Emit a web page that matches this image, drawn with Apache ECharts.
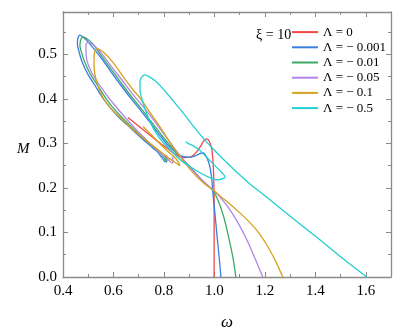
<!DOCTYPE html>
<html>
<head>
<meta charset="utf-8">
<script src="https://cdn.jsdelivr.net/npm/echarts@6/dist/echarts.min.js"></script>
<style>
  html, body { margin: 0; padding: 0; background: #fff; }
  #chart { width: 407px; height: 335px; }
</style>
</head>
<body>
<div id="chart"></div>
<script>
// omega / M along each curve
const wL0 = [0.999, 0.999, 0.999, 0.997, 0.994, 0.990, 0.982, 0.970, 0.958, 0.947, 0.931, 0.911, 0.887, 0.863, 0.836, 0.804, 0.772, 0.733, 0.693, 0.657];
const mL0 = [0, 0.083, 0.173, 0.230, 0.264, 0.286, 0.302, 0.310, 0.306, 0.295, 0.282, 0.271, 0.268, 0.270, 0.279, 0.293, 0.306, 0.324, 0.342, 0.358];

const wL0001 = [1.026, 1.018, 1.010, 1.002, 0.994, 0.990, 0.982, 0.970, 0.954, 0.939, 0.919, 0.895, 0.863, 0.824, 0.784, 0.745, 0.705, 0.669, 0.630, 0.586, 0.547, 0.507, 0.483, 0.467, 0.459, 0.457, 0.463, 0.475, 0.499, 0.527, 0.554, 0.586, 0.626, 0.665, 0.705, 0.745, 0.772, 0.792, 0.804, 0.808, 0.806];
const mL0001 = [0, 0.050, 0.095, 0.144, 0.189, 0.218, 0.248, 0.268, 0.279, 0.276, 0.271, 0.269, 0.273, 0.291, 0.318, 0.347, 0.376, 0.401, 0.430, 0.464, 0.495, 0.523, 0.537, 0.543, 0.536, 0.523, 0.507, 0.484, 0.455, 0.430, 0.405, 0.381, 0.356, 0.336, 0.315, 0.295, 0.282, 0.268, 0.259, 0.266, 0.275];

const wL001 = [1.085, 1.073, 1.057, 1.038, 1.014, 0.994, 0.966, 0.935, 0.903, 0.863, 0.828, 0.792, 0.752, 0.713, 0.677, 0.638, 0.594, 0.554, 0.519, 0.495, 0.479, 0.471, 0.467, 0.473, 0.485, 0.507, 0.535, 0.562, 0.594, 0.634, 0.673, 0.713, 0.752, 0.780, 0.800, 0.810, 0.812, 0.810];
const mL001 = [0, 0.045, 0.088, 0.133, 0.173, 0.194, 0.209, 0.227, 0.248, 0.270, 0.293, 0.318, 0.347, 0.376, 0.401, 0.430, 0.464, 0.495, 0.523, 0.535, 0.539, 0.534, 0.520, 0.505, 0.484, 0.457, 0.432, 0.408, 0.383, 0.358, 0.336, 0.315, 0.295, 0.282, 0.268, 0.258, 0.264, 0.273];

const wL005 = [1.192, 1.160, 1.129, 1.093, 1.053, 1.018, 0.994, 0.958, 0.923, 0.887, 0.851, 0.816, 0.784, 0.752, 0.717, 0.677, 0.638, 0.598, 0.558, 0.527, 0.507, 0.497, 0.491, 0.491, 0.495, 0.511, 0.535, 0.566, 0.606, 0.650, 0.697, 0.745, 0.788, 0.816, 0.832, 0.836, 0.834];
const mL005 = [0, 0.043, 0.083, 0.122, 0.158, 0.182, 0.196, 0.214, 0.234, 0.257, 0.282, 0.309, 0.333, 0.358, 0.383, 0.410, 0.439, 0.468, 0.498, 0.518, 0.526, 0.527, 0.520, 0.507, 0.486, 0.462, 0.439, 0.414, 0.385, 0.356, 0.327, 0.300, 0.277, 0.264, 0.256, 0.261, 0.270];

const wL01 = [1.271, 1.244, 1.212, 1.176, 1.141, 1.101, 1.061, 1.022, 0.994, 0.962, 0.931, 0.899, 0.867, 0.832, 0.796, 0.764, 0.737, 0.709, 0.677, 0.638, 0.598, 0.566, 0.547, 0.535, 0.527, 0.523, 0.523, 0.527, 0.539, 0.558, 0.586, 0.626, 0.673, 0.725, 0.776, 0.816, 0.848, 0.863, 0.859, 0.840, 0.804, 0.764, 0.737, 0.717];
const mL01 = [0, 0.034, 0.068, 0.099, 0.122, 0.144, 0.164, 0.182, 0.196, 0.209, 0.225, 0.245, 0.268, 0.295, 0.327, 0.354, 0.376, 0.399, 0.421, 0.450, 0.482, 0.502, 0.510, 0.512, 0.507, 0.493, 0.475, 0.453, 0.428, 0.403, 0.381, 0.358, 0.333, 0.309, 0.286, 0.268, 0.256, 0.250, 0.257, 0.270, 0.288, 0.311, 0.327, 0.338];

const wL05 = [1.604, 1.537, 1.469, 1.406, 1.339, 1.271, 1.208, 1.141, 1.089, 1.042, 0.994, 0.954, 0.915, 0.875, 0.836, 0.796, 0.764, 0.741, 0.725, 0.713, 0.705, 0.705, 0.713, 0.733, 0.756, 0.784, 0.824, 0.863, 0.903, 0.943, 0.982, 1.014, 1.038, 1.042, 1.030, 1.002, 0.974, 0.943, 0.915, 0.895, 0.887];
const mL05 = [0, 0.029, 0.060, 0.089, 0.119, 0.150, 0.179, 0.209, 0.235, 0.261, 0.288, 0.313, 0.340, 0.369, 0.396, 0.423, 0.441, 0.450, 0.454, 0.450, 0.439, 0.421, 0.399, 0.365, 0.336, 0.311, 0.286, 0.264, 0.248, 0.234, 0.223, 0.218, 0.222, 0.225, 0.234, 0.250, 0.266, 0.284, 0.295, 0.300, 0.304];

const names = ['\u039b = 0', '\u039b = \u2212 0.001', '\u039b = \u2212 0.01', '\u039b = \u2212 0.05', '\u039b = \u2212 0.1', '\u039b = \u2212 0.5'];
const colors = ['#f04848', '#3a7ee0', '#3aaa66', '#b384e8', '#d6a11c', '#22cfd2'];
const omegas = [wL0, wL0001, wL001, wL005, wL01, wL05];
const masses = [mL0, mL0001, mL001, mL005, mL01, mL05];

const xTicks = { min: 0.4, max: 1.7, interval: 0.2 };
const yTicks = { min: 0, max: 0.595, interval: 0.1 };

const font = 'Liberation Serif';
const axisGray = '#8a8a8a';

function zip(w, m) {
  return w.map((v, i) => [v, m[i]]);
}

let chart = echarts.init(document.getElementById('chart'));

let series = names.map((name, i) => ({
  name: name,
  type: 'line',
  data: zip(omegas[i], masses[i]),
  smooth: 0.3,
  symbol: 'none',
  lineStyle: { color: colors[i], width: 1.3 },
  itemStyle: { color: colors[i] },
  xAxisIndex: 0,
  yAxisIndex: 0
}));

const baseX = {
  type: 'value',
  min: xTicks.min,
  max: xTicks.max,
  interval: xTicks.interval,
  axisLine: { show: true, onZero: false, lineStyle: { color: axisGray, width: 1.3 } },
  axisTick: { show: true, inside: true, length: 5, lineStyle: { color: axisGray } },
  minorTick: { show: true, splitNumber: 2, length: 3, lineStyle: { color: axisGray } },
  splitLine: { show: false }
};
const baseY = {
  type: 'value',
  min: yTicks.min,
  max: yTicks.max,
  interval: yTicks.interval,
  axisLine: { show: true, onZero: false, lineStyle: { color: axisGray, width: 1.3 } },
  axisTick: { show: true, inside: true, length: 5, lineStyle: { color: axisGray } },
  minorTick: { show: true, splitNumber: 2, length: 3, lineStyle: { color: axisGray } },
  splitLine: { show: false }
};

let option = {
  animation: false,
  backgroundColor: '#fff',
  grid: { left: 63, right: 16, top: 12, bottom: 58, outerBoundsMode: 'none', containLabel: false },
  legend: {
    data: names,
    orient: 'vertical',
    left: 292,
    top: 24.5,
    padding: 0,
    icon: 'rect',
    itemWidth: 26,
    itemHeight: 2,
    itemGap: 0,
    textStyle: { fontFamily: font, fontSize: 13, lineHeight: 15.2, color: '#000' }
  },
  graphic: [{
    type: 'text',
    left: 256,
    top: 28,
    style: { text: '\u03be = 10', font: '14px "Liberation Serif"', fill: '#000' }
  }, {
    // y axis title
    type: 'text',
    left: 17,
    top: 142,
    style: { text: 'M', font: 'italic 15px "Liberation Serif"', fill: '#000' }
  }],
  xAxis: [
    Object.assign({}, baseX, {
      position: 'bottom',
      name: '\u03c9',
      nameLocation: 'middle',
      nameGap: 37,
      nameTextStyle: { fontFamily: font, fontStyle: 'italic', fontSize: 17, color: '#000' },
      axisLabel: {
        fontFamily: font, fontSize: 15, color: '#000', margin: 7, showMaxLabel: false,
        formatter: v => v.toFixed(1)
      }
    }),
    Object.assign({}, baseX, { position: 'top', axisLabel: { show: false } })
  ],
  yAxis: [
    Object.assign({}, baseY, {
      position: 'left',
      axisLabel: {
        fontFamily: font, fontSize: 15, color: '#000', margin: 6, showMaxLabel: false,
        formatter: v => v.toFixed(1)
      }
    }),
    Object.assign({}, baseY, { position: 'right', axisLabel: { show: false } })
  ],
  series: series
};

chart.setOption(option);
</script>
</body>
</html>
